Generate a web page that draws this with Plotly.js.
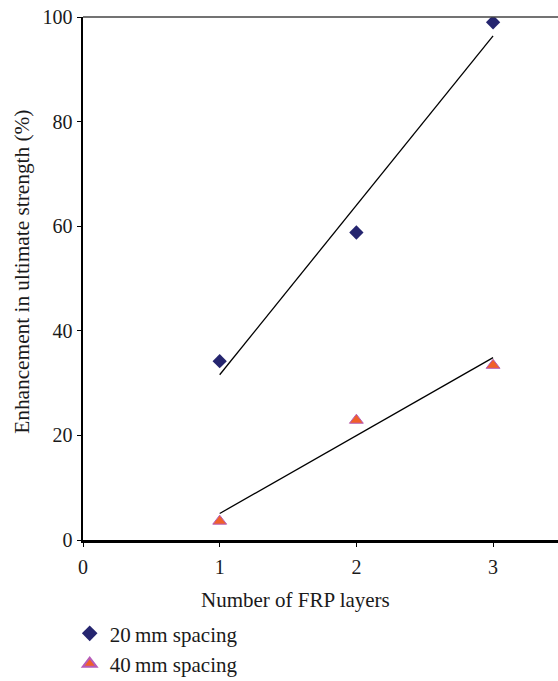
<!DOCTYPE html>
<html>
<head>
<meta charset="utf-8">
<script src="https://cdn.plot.ly/plotly-3.0.1.min.js"></script>
<style>
  html, body { margin: 0; padding: 0; background: #fff; }
  #chart { width: 558px; height: 681px; }
</style>
</head>
<body>
<div id="chart"></div>
<script>
// Number of FRP layers on the x axis
const layers = [1, 2, 3];
// Enhancement in ultimate strength (%) for each spacing
const spacing20 = [34.2, 58.8, 99.0];
const spacing40 = [3.6, 22.9, 33.4];
const seriesNames = ['20\u2009mm spacing', '40\u2009mm spacing'];
const xTicks = [0, 1, 2, 3];
const yTicks = [0, 20, 40, 60, 80, 100];
const xTitle = 'Number of FRP layers';
const yTitle = 'Enhancement in ultimate strength (%)';

// Least-squares straight line through a series
function linearFit(xs, ys) {
  const n = xs.length;
  const mx = xs.reduce((a, b) => a + b, 0) / n;
  const my = ys.reduce((a, b) => a + b, 0) / n;
  let sxy = 0, sxx = 0;
  for (let i = 0; i < n; i++) {
    sxy += (xs[i] - mx) * (ys[i] - my);
    sxx += (xs[i] - mx) * (xs[i] - mx);
  }
  const slope = sxy / sxx;
  const icpt = my - slope * mx;
  const x0 = Math.min(...xs), x1 = Math.max(...xs);
  return { x: [x0, x1], y: [icpt + slope * x0, icpt + slope * x1] };
}

const fit20 = linearFit(layers, spacing20);
const fit40 = linearFit(layers, spacing40);

const serif = 'Liberation Serif, Times New Roman, serif';
const ink = '#1a1a1a';

const traces = [
  {
    x: fit20.x, y: fit20.y, mode: 'lines', showlegend: false, hoverinfo: 'skip',
    line: { color: '#000', width: 1.3 }
  },
  {
    x: fit40.x, y: fit40.y, mode: 'lines', showlegend: false, hoverinfo: 'skip',
    line: { color: '#000', width: 1.3 }
  },
  {
    x: layers, y: spacing20, mode: 'markers', name: seriesNames[0],
    marker: { symbol: 'diamond', size: 11, color: '#25256f', line: { width: 0 } }
  },
  {
    x: layers, y: spacing40, mode: 'markers', name: seriesNames[1],
    marker: { symbol: 'triangle-up', size: 12, color: '#f0602a', line: { width: 1, color: '#b65cb8' } }
  }
];

const layout = {
  width: 558, height: 681,
  margin: { l: 83, r: 0, t: 17, b: 141, autoexpand: false },
  paper_bgcolor: '#fff', plot_bgcolor: '#fff',
  font: { family: serif, size: 20, color: ink },
  xaxis: {
    range: [0, 3.475], tickvals: xTicks, ticktext: xTicks.map(String),
    showgrid: false, zeroline: false,
    showline: true, linecolor: '#000', linewidth: 2.5,
    ticks: 'outside', ticklen: 4, tickwidth: 1, tickcolor: '#000',
    ticklabelstandoff: 3,
    tickfont: { family: serif, size: 20, color: ink }
  },
  yaxis: {
    range: [0, 100], tickvals: yTicks, ticktext: yTicks.map(String),
    showgrid: false, zeroline: false,
    showline: true, linecolor: '#000', linewidth: 2.5,
    ticks: 'outside', ticklen: 4, tickwidth: 1, tickcolor: '#000',
    tickfont: { family: serif, size: 20, color: ink }
  },
  annotations: [
    {
      text: xTitle, xref: 'paper', yref: 'paper', x: 0.448, y: -0.1147,
      xanchor: 'center', yanchor: 'middle', showarrow: false,
      font: { family: serif, size: 21, color: ink }
    },
    {
      text: yTitle, xref: 'paper', yref: 'paper', x: -0.129, y: 0.5124,
      xanchor: 'center', yanchor: 'middle', showarrow: false, textangle: -90,
      font: { family: serif, size: 21.3, color: ink }
    }
  ],
  shapes: [
    {
      type: 'line', xref: 'paper', yref: 'paper', x0: 0, x1: 1, y0: 1, y1: 1,
      line: { color: '#444', width: 1.5 }
    }
  ],
  legend: {
    x: -0.028, xanchor: 'left', y: -0.14, yanchor: 'top',
    orientation: 'v', bgcolor: 'rgba(0,0,0,0)',
    font: { family: serif, size: 21, color: ink },
    itemsizing: 'constant'
  },
  showlegend: true
};

Plotly.newPlot('chart', traces, layout, { staticPlot: true, displayModeBar: false });
</script>
</body>
</html>
